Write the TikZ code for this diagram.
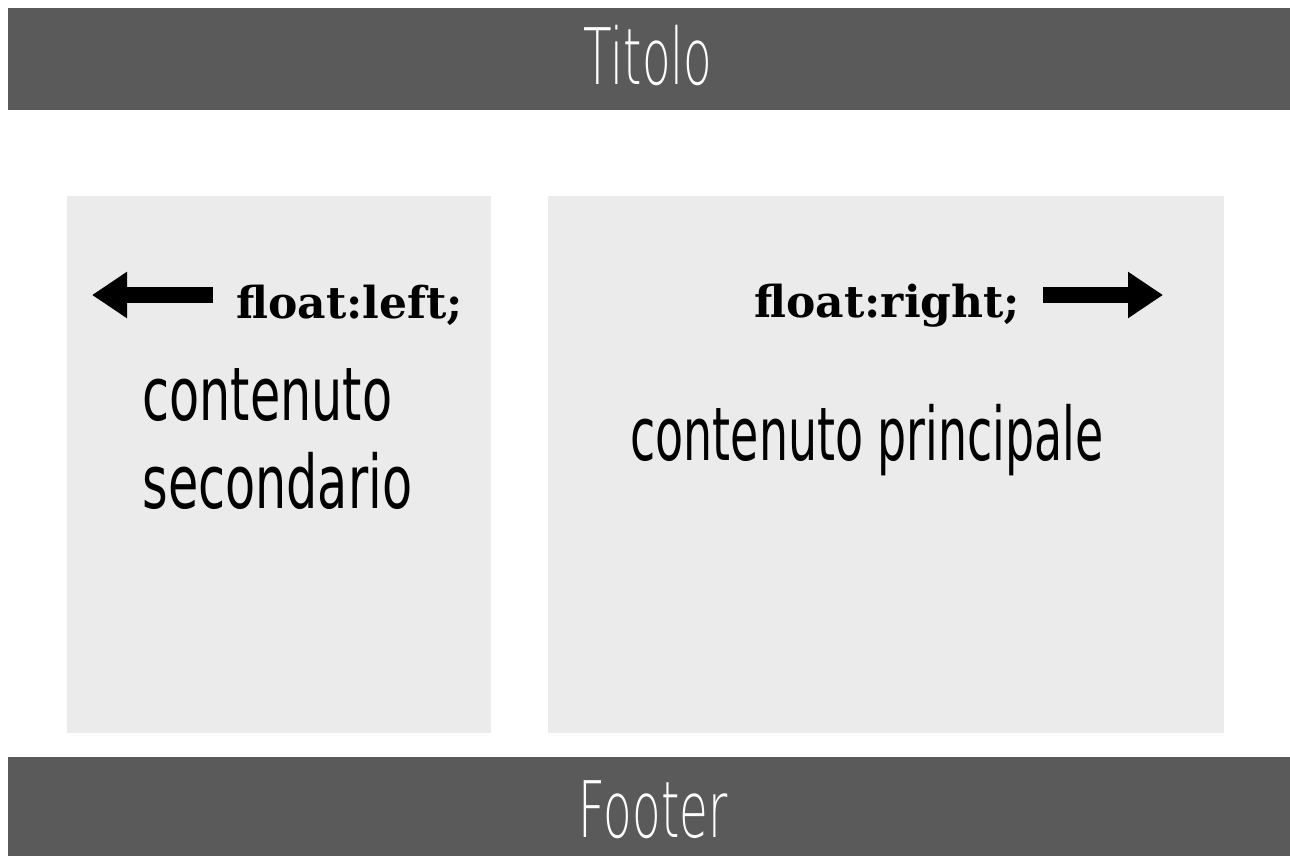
\documentclass[tikz,border=0pt]{standalone}
\usepackage{fontspec}
\setmainfont{DejaVu Sans}
\newfontfamily\thinfont{DejaVu Sans ExtraLight}
\newfontfamily\slabfont{DejaVu Serif}
\usetikzlibrary{arrows.meta}
\definecolor{bardark}{HTML}{5A5A5A}
\definecolor{boxlight}{HTML}{EBEBEB}
\newcommand{\cond}[2]{\scalebox{#1}[1]{#2}}
\begin{document}
\begin{tikzpicture}[x=0.5pt,y=-0.5pt,
  bar/.style={fill=bardark},
  panel/.style={fill=boxlight},
  bartext/.style={text=white,inner sep=0pt,anchor=base,font=\thinfont\fontsize{39}{39}\selectfont},
  bodytext/.style={text=black,inner sep=0pt,anchor=base west,font=\fontsize{37}{37}\selectfont},
  codetext/.style={text=black,inner sep=0pt,anchor=base west,font=\slabfont\bfseries\fontsize{22}{22}\selectfont},
  fatarrow/.style={line width=8pt,-{Triangle[length=17.5pt,width=22pt]}}]
\useasboundingbox (0,0) rectangle (1290,856);
% bars
\fill[bar] (8,8) rectangle (1290,110);
\fill[bar] (8,757) rectangle (1290,856);
% panels
\fill[panel] (67,196) rectangle (491,733);
\fill[panel] (548,196) rectangle (1224,733);
% titles
\node[bartext] (title) at (648,85) {\cond{0.6}{Titolo}};
\node[bartext] (footer) at (653,837) {\cond{0.6}{Footer}};
% left panel
\coordinate (la1) at (213,295);
\coordinate (la2) at (92,295);
\draw[fatarrow] (la1) -- (la2);
\node[codetext] (fl) at (236,318) {float:left;};
\node[bodytext] (sec1) at (142,420) {\cond{0.665}{contenuto}};
\node[bodytext] (sec2) at (142,508) {\cond{0.665}{secondario}};
% right panel
\node[codetext] (fr) at (754,317) {float:right;};
\coordinate (ra1) at (1043,295);
\coordinate (ra2) at (1163,295);
\draw[fatarrow] (ra1) -- (ra2);
\node[bodytext] (main) at (630,460) {\cond{0.62}{contenuto principale}};
\end{tikzpicture}
\end{document}
